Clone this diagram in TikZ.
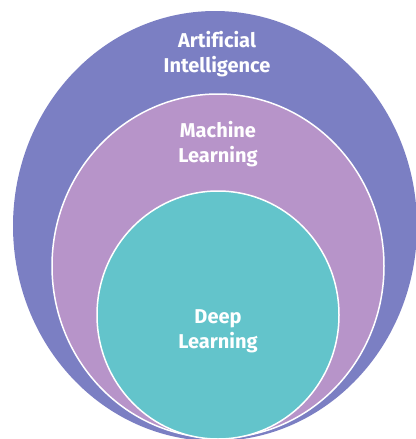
\documentclass[tikz,border=0pt]{standalone}
\usepackage{fontspec}
\setmainfont{Fira Sans}[Ligatures=NoCommon]
\definecolor{aicol}{HTML}{7B7FC3}
\definecolor{mlcol}{HTML}{B794C9}
\definecolor{dlcol}{HTML}{63C4CB}
\begin{document}
\begin{tikzpicture}[x=1pt, y=-1pt]
\tikzset{ring/.style={draw=white, line width=1.5pt},
  lbl/.style={text=white, align=center, font=\fontsize{20}{25}\selectfont\bfseries}}
\useasboundingbox (0,0) rectangle (415,439);
\fill[aicol] (215,226) ellipse (202 and 215);
\draw[ring, fill=mlcol] (218,266) ellipse (166 and 172);
\draw[ring, fill=dlcol] (218,315) ellipse (121 and 124);
\node[lbl] (ai) at (217,54) {Artificial\\Intelligence};
\node[lbl] (ml) at (218,144) {Machine\\Learning};
\node[lbl] (dl) at (218,331) {Deep\\Learning};
\end{tikzpicture}
\end{document}
